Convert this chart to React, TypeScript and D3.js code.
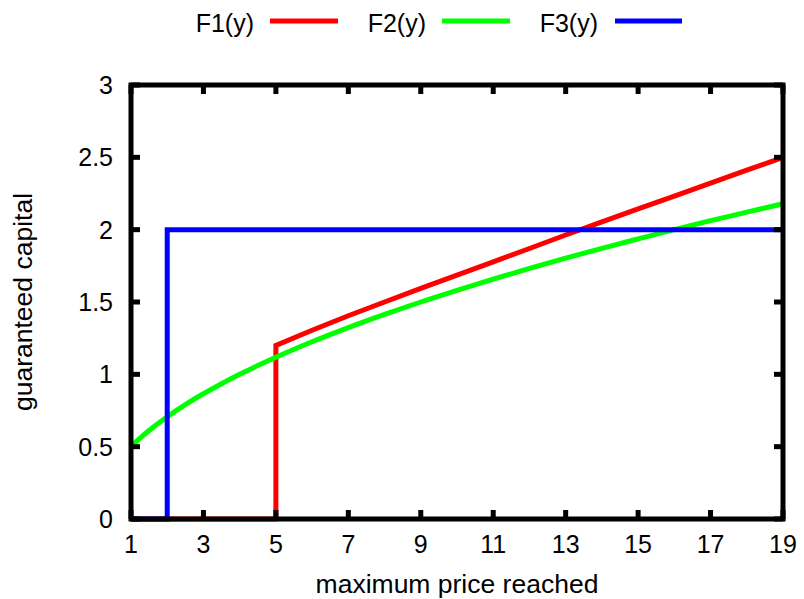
import React from 'react';
import * as d3 from 'd3';

const WIDTH = 804;
const HEIGHT = 599;

const xTicks = [1, 3, 5, 7, 9, 11, 13, 15, 17, 19];
const yTicks = [0, 0.5, 1, 1.5, 2, 2.5, 3];
const yTickLabels = ['0', '0.5', '1', '1.5', '2', '2.5', '3'];

const seriesNames = ['F1(y)', 'F2(y)', 'F3(y)'];
const seriesColors = ['#ff0000', '#00ff00', '#0000ff'];

// F1: zero until the jump at 5, then rising
const f1X = [1, 5, 5, 6, 7, 8, 9, 10, 11, 12, 13, 14, 15, 16, 17, 18, 19];
const f1Y = [0, 0, 1.2, 1.305, 1.405, 1.5, 1.594, 1.686, 1.778, 1.87, 1.963, 2.054, 2.143, 2.232, 2.322, 2.411, 2.5];

// F2: smooth concave curve
const f2X = [1, 1.25, 1.5, 2, 2.5, 3, 3.5, 4, 5, 6, 7, 8, 9, 10, 11, 12, 13, 14, 15, 16, 17, 18, 19];
const f2Y = [0.5, 0.559, 0.612, 0.707, 0.791, 0.866, 0.935, 1.0, 1.118, 1.225, 1.323, 1.414, 1.5, 1.581, 1.658, 1.732, 1.803, 1.871, 1.936, 2.0, 2.062, 2.121, 2.179];

// F3: step to 2 at y = 2
const f3X = [1, 2, 2, 19];
const f3Y = [0, 0, 2, 2];

const margin = { left: 131, right: 783, top: 85, bottom: 519 };

export default function App() {
  const x = d3.scaleLinear().domain([1, 19]).range([margin.left, margin.right]);
  const y = d3.scaleLinear().domain([0, 3]).range([margin.bottom, margin.top]);

  const toPts = (xs: number[], ys: number[]) => xs.map((v, i) => [v, ys[i]] as [number, number]);
  const lineLin = d3.line<[number, number]>().x(d => x(d[0])).y(d => y(d[1]));
  const lineSmooth = d3.line<[number, number]>().x(d => x(d[0])).y(d => y(d[1])).curve(d3.curveMonotoneX);

  const paths = [
    lineLin(toPts(f1X, f1Y)),
    lineSmooth(toPts(f2X, f2Y)),
    lineLin(toPts(f3X, f3Y)),
  ];

  const legendTextX = [254, 426, 598];
  const legendLineX = [[270, 338], [442, 510], [615, 682]];
  const font = '"Liberation Sans", Arial, Helvetica, sans-serif';
  const tickLen = 9;

  return (
    <svg width={WIDTH} height={HEIGHT} style={{ position: 'absolute', left: 0, top: 0, background: '#fff' }}
      fontFamily={font} fontSize={25}>
      {/* legend */}
      {seriesNames.map((name, i) => (
        <g key={name}>
          <text x={legendTextX[i]} y={32} textAnchor="end" fill="#000">{name}</text>
          <line x1={legendLineX[i][0]} x2={legendLineX[i][1]} y1={21} y2={21}
            stroke={seriesColors[i]} strokeWidth={5} />
        </g>
      ))}

      {/* series */}
      {paths.map((d, i) => (
        <path key={i} d={d || ''} fill="none" stroke={seriesColors[i]} strokeWidth={5}
          strokeLinejoin="miter" />
      ))}

      {/* ticks */}
      {xTicks.map(t => (
        <g key={'x' + t}>
          <line x1={x(t)} x2={x(t)} y1={margin.bottom} y2={margin.bottom - tickLen} stroke="#000" strokeWidth={5} />
          <line x1={x(t)} x2={x(t)} y1={margin.top} y2={margin.top + tickLen} stroke="#000" strokeWidth={5} />
          <text x={x(t)} y={553} textAnchor="middle" fill="#000">{t}</text>
        </g>
      ))}
      {yTicks.map((t, i) => (
        <g key={'y' + t}>
          <line x1={margin.left} x2={margin.left + tickLen} y1={y(t)} y2={y(t)} stroke="#000" strokeWidth={5} />
          <line x1={margin.right} x2={margin.right - tickLen} y1={y(t)} y2={y(t)} stroke="#000" strokeWidth={5} />
          <text x={113} y={y(t)} dy="0.36em" textAnchor="end" fill="#000">{yTickLabels[i]}</text>
        </g>
      ))}

      {/* border */}
      <rect x={margin.left} y={margin.top} width={margin.right - margin.left} height={margin.bottom - margin.top}
        fill="none" stroke="#000" strokeWidth={5} />

      {/* axis titles */}
      <text x={(margin.left + margin.right) / 2} y={593} textAnchor="middle" fill="#000" fontSize={26.5}>
        maximum price reached
      </text>
      <text transform={`translate(32, ${(margin.top + margin.bottom) / 2}) rotate(-90)`} textAnchor="middle"
        fill="#000" fontSize={26.5}>
        guaranteed capital
      </text>
    </svg>
  );
}
